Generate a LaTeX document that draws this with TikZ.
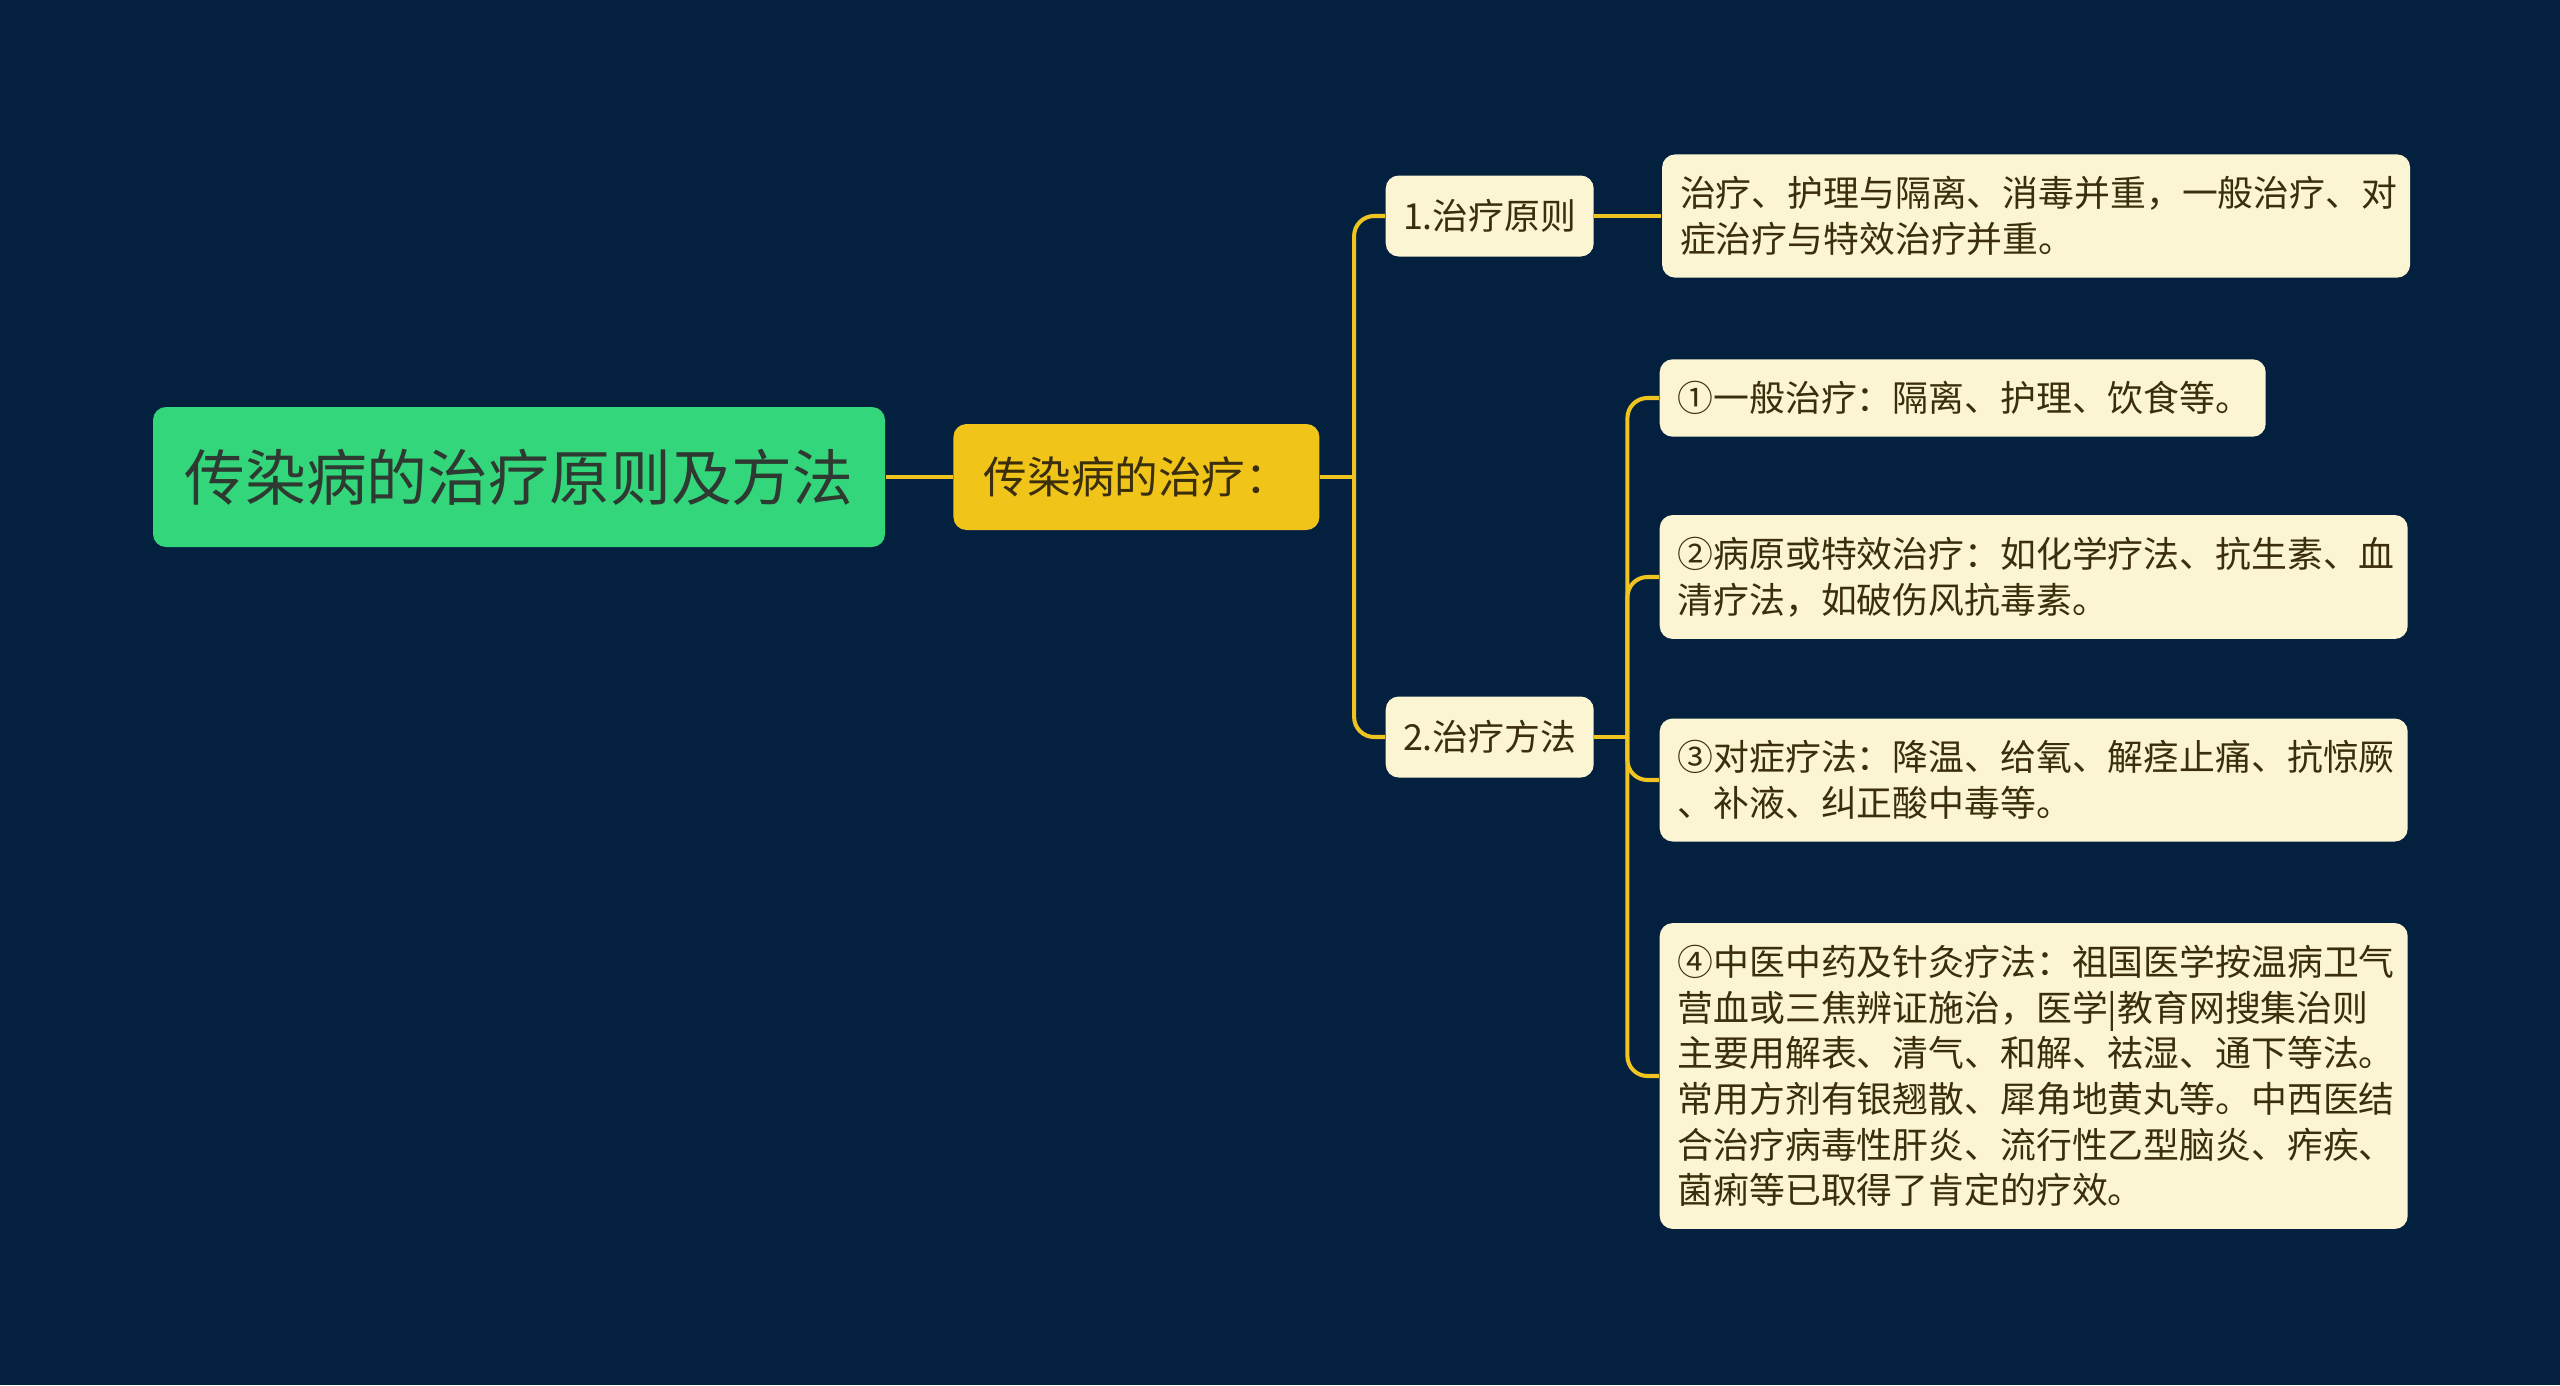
\documentclass[tikz,border=0pt]{standalone}
\usepackage{fontspec}
\setmainfont{Noto Sans CJK SC}
\usetikzlibrary{positioning}

\definecolor{bgnavy}{HTML}{03203F}
\definecolor{rootgreen}{HTML}{33D67A}
\definecolor{mainyellow}{HTML}{F0C419}
\definecolor{cream}{HTML}{FCF5D3}
\definecolor{linkyellow}{HTML}{EFC320}
\definecolor{leaftext}{HTML}{3A2E0C}
\definecolor{roottext}{HTML}{2E3A31}

\begin{document}
\begin{tikzpicture}[
    x=1cm, y=-1cm,
    every node/.style={rounded corners=0.13cm, align=left, inner sep=0pt, text=leaftext, font=\fontsize{10.2}{13}\selectfont},
    rootbox/.style={fill=rootgreen, text=roottext, align=center, minimum width=7.32cm, minimum height=1.40cm, font=\fontsize{17.3}{20}\selectfont},
    mainbox/.style={fill=mainyellow, align=center, minimum width=3.66cm, minimum height=1.06cm, font=\fontsize{12.4}{15}\selectfont},
    subbox/.style={fill=cream, align=center, minimum width=2.08cm, minimum height=0.81cm},
    leafbox/.style={fill=cream, inner xsep=0.18cm, inner ysep=0.22cm, text width=7.12cm},
    link/.style={draw=linkyellow, line width=1.15pt, rounded corners=0.2cm}
]

\fill[bgnavy] (0,0) rectangle (25.6,13.85);

\node[rootbox] (root) at (5.19,4.77) {传染病的治疗原则及方法};
\node[mainbox, right=0.67cm of root] (treat) {传染病的治疗：};

\node[subbox, anchor=west] (principle) at (13.85,2.16) {1.治疗原则};
\node[subbox, anchor=west] (method) at (13.85,7.37) {2.治疗方法};

\node[leafbox, right=0.67cm of principle] (both) {治疗、护理与隔离、消毒并重，一般治疗、对\\症治疗与特效治疗并重。};

\node[leafbox, anchor=west, text width=5.70cm] (general) at (16.59,3.98) {①一般治疗：隔离、护理、饮食等。};
\node[leafbox, anchor=west] (cause) at (16.59,5.77) {②病原或特效治疗：如化学疗法、抗生素、血\\清疗法，如破伤风抗毒素。};
\node[leafbox, anchor=west] (symptom) at (16.59,7.80) {③对症疗法：降温、给氧、解痉止痛、抗惊厥\\、补液、纠正酸中毒等。};
\node[leafbox, anchor=west] (tcm) at (16.59,10.76) {④中医中药及针灸疗法：祖国医学按温病卫气\\营血或三焦辨证施治，医学|教育网搜集治则\\主要用解表、清气、和解、祛湿、通下等法。\\常用方剂有银翘散、犀角地黄丸等。中西医结\\合治疗病毒性肝炎、流行性乙型脑炎、痄疾、\\菌痢等已取得了肯定的疗效。};

\coordinate[right=0.34cm of treat.east] (fork);
\coordinate[right=0.33cm of method.east] (fork2);

\draw[link] (root) -- (treat);
\draw[link] (treat) -- (fork);
\draw[link] (fork) |- (principle.west);
\draw[link] (fork) |- (method.west);
\draw[link] (principle) -- (both);
\draw[link] (method) -- (fork2);
\foreach \leaf in {general,cause,symptom,tcm}
    \draw[link] (fork2) |- (\leaf.west);

\end{tikzpicture}
\end{document}
